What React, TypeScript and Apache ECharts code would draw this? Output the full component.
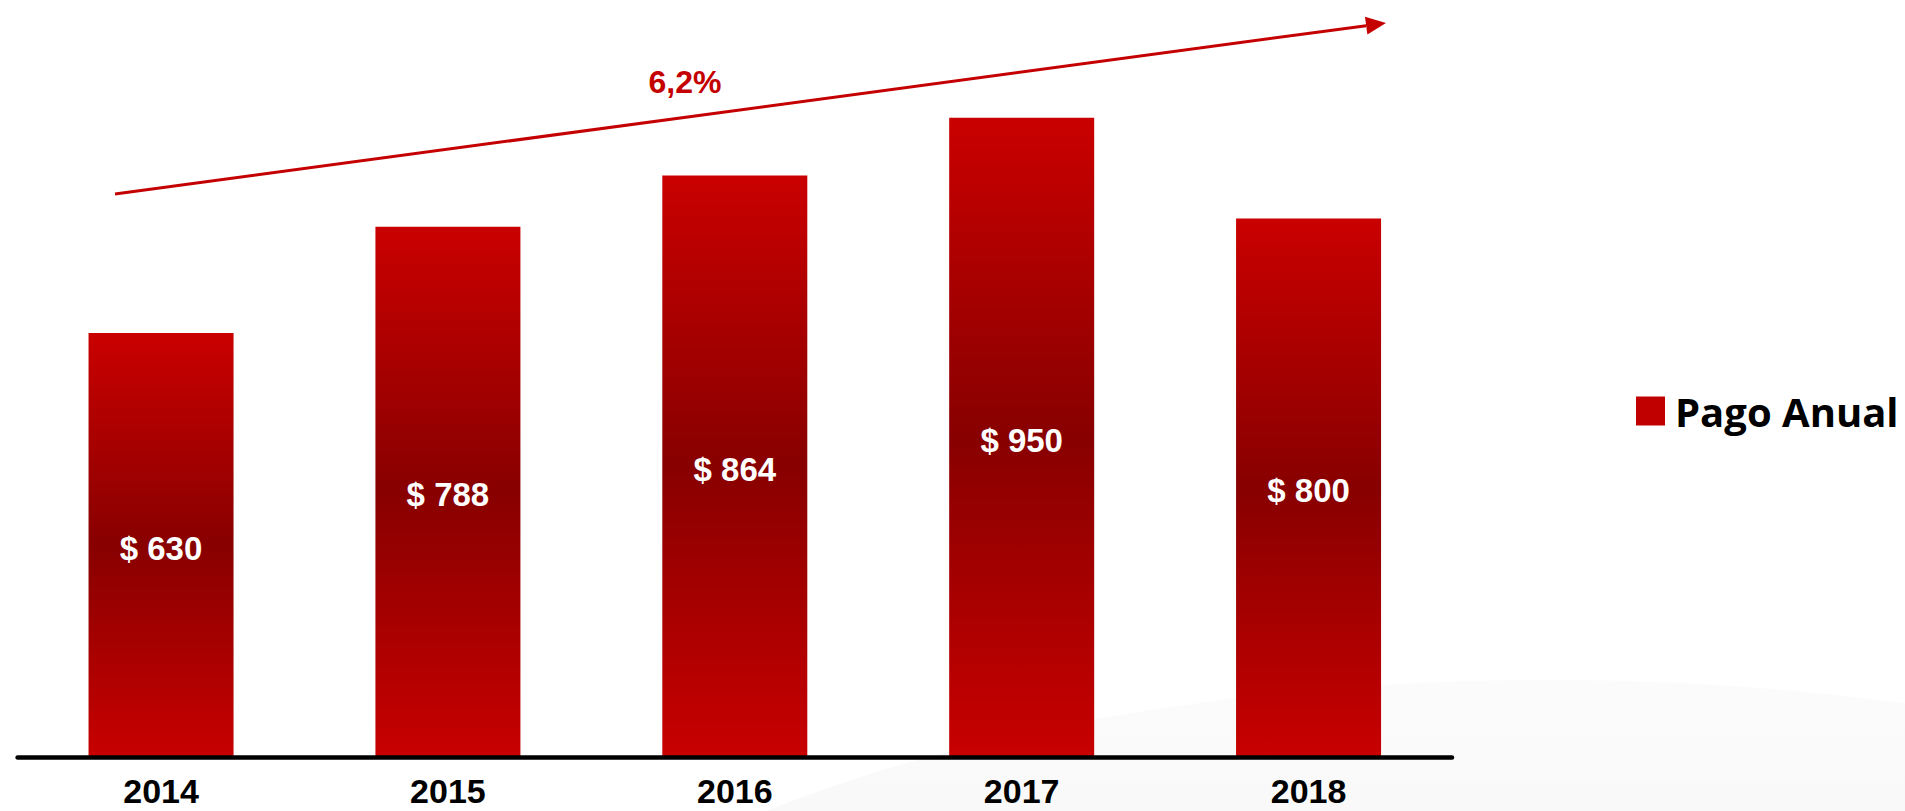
import React, { useEffect, useRef } from "react";
import * as echarts from "echarts";

const categories = ["2014", "2015", "2016", "2017", "2018"];
const pagoAnual = [630, 788, 864, 950, 800];
const seriesName = "Pago Anual";
const growthLabel = "6,2%";

export default function App() {
  const ref = useRef<HTMLDivElement>(null);
  useEffect(() => {
    if (!ref.current) return;
    const chart = echarts.init(ref.current, null, { renderer: "svg" });
    const red = "#C40000";
    // arrow geometry (annotation)
    const sx = 115, sy = 194, tx = 1386, ty = 23;
    const dx = tx - sx, dy = ty - sy;
    const len = Math.sqrt(dx * dx + dy * dy);
    const ux = dx / len, uy = dy / len;
    const nx = -uy, ny = ux;
    const headLen = 20, headHalf = 9;
    const bx = tx - ux * headLen, by = ty - uy * headLen;
    chart.setOption({
      animation: false,
      backgroundColor: "#ffffff",
      grid: { left: 17.6, right: 453, top: 84, bottom: 54, containLabel: false },
      legend: {
        left: 1631,
        top: 386,
        itemWidth: 29,
        itemHeight: 29,
        icon: "rect",
        data: [{ name: seriesName, itemStyle: { color: "#C00000" } }],
        textStyle: {
          fontFamily: "Open Sans",
          fontWeight: "bold",
          fontSize: 40,
          lineHeight: 40,
          color: "#000",
          padding: [0, 0, 0, 5],
        },
      },
      xAxis: {
        type: "category",
        data: categories,
        z: 5,
        axisLine: { lineStyle: { color: "#000", width: 4.5 } },
        axisTick: { show: false },
        axisLabel: {
          margin: 17,
          fontFamily: "Liberation Sans",
          fontWeight: "bold",
          fontSize: 34,
          lineHeight: 34,
          color: "#000",
        },
      },
      yAxis: {
        type: "value",
        min: 0,
        max: 1000,
        show: false,
        splitLine: { show: false },
      },
      graphic: [
        {
          type: "ellipse",
          z: -10,
          silent: true,
          shape: { cx: 1550, cy: 1120, rx: 1100, ry: 440 },
          style: {
            fill: {
              type: "linear",
              x: 0,
              y: 0,
              x2: 0,
              y2: 1,
              colorStops: [
                { offset: 0, color: "rgba(0,0,0,0.015)" },
                { offset: 0.3, color: "rgba(0,0,0,0.035)" },
                { offset: 1, color: "rgba(0,0,0,0.01)" },
              ],
            },
          },
        },
        {
          type: "line",
          silent: true,
          shape: { x1: sx, y1: sy, x2: bx, y2: by },
          style: { stroke: red, lineWidth: 3 },
        },
        {
          type: "polygon",
          silent: true,
          shape: {
            points: [
              [tx, ty],
              [bx + nx * headHalf, by + ny * headHalf],
              [bx - nx * headHalf, by - ny * headHalf],
            ],
          },
          style: { fill: red },
        },
        {
          type: "text",
          silent: true,
          x: 685,
          y: 82,
          style: {
            text: growthLabel,
            fill: red,
            fontFamily: "Liberation Sans",
            fontWeight: "bold",
            fontSize: 32,
            align: "center",
            verticalAlign: "middle",
          },
        },
      ],
      series: [
        {
          name: seriesName,
          type: "bar",
          data: pagoAnual,
          barWidth: 145,
          itemStyle: {
            color: {
              type: "linear",
              x: 0,
              y: 0,
              x2: 0,
              y2: 1,
              colorStops: [
                { offset: 0, color: "#CA0000" },
                { offset: 0.5, color: "#880000" },
                { offset: 1, color: "#C80000" },
              ],
            },
          },
          label: {
            show: true,
            position: "inside",
            offset: [0, 3],
            formatter: "$ {c}",
            color: "#fff",
            fontFamily: "Liberation Sans",
            fontWeight: "bold",
            fontSize: 33,
          },
        },
      ],
    });
    return () => chart.dispose();
  }, []);
  return (
    <div
      ref={ref}
      style={{ position: "fixed", left: 0, top: 0, width: 1905, height: 811 }}
    />
  );
}
